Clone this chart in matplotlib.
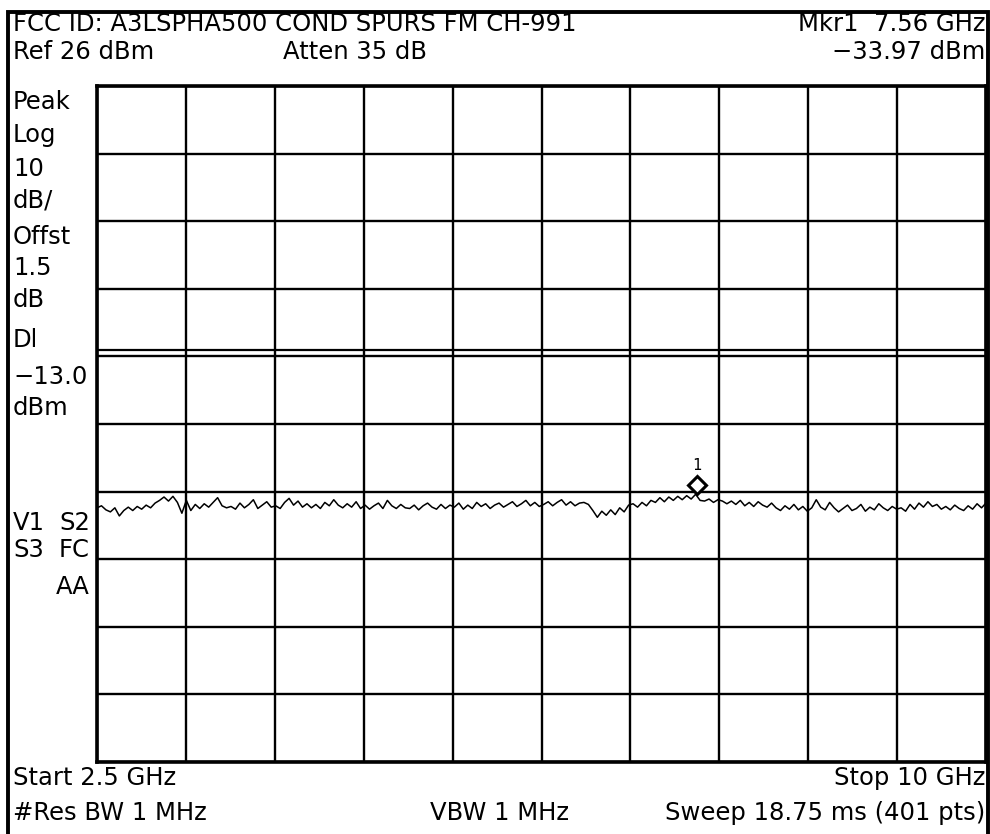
import numpy as np
import matplotlib
matplotlib.use("Agg")
import matplotlib.pyplot as plt
from matplotlib.patches import Rectangle
from matplotlib.transforms import offset_copy

# sweep settings
f_start = 2.5
f_stop = 10.0
ref_level = 26
db_per_div = 10
display_line = -13.0
marker_freq = 7.56

# trace (dBm) left to right
trace = [
    -36.4, -36.1, -36.7, -37.0, -36.4, -37.6, -36.8, -36.3, -36.8, -36.2,
    -36.6, -36.0, -36.4, -35.7, -35.3, -34.8, -35.4, -34.7, -35.6, -37.2,
    -35.3, -36.8, -35.9, -36.5, -35.8, -36.3, -35.6, -34.9, -36.1, -36.4,
    -36.2, -36.6, -35.7, -36.4, -35.9, -35.2, -36.5, -36.0, -35.5, -36.3,
    -36.1, -36.5, -35.6, -35.0, -36.0, -35.4, -36.3, -35.8, -36.4, -35.9,
    -36.5, -35.6, -36.1, -35.2, -36.0, -36.4, -35.8, -36.3, -35.5, -36.5,
    -36.0, -36.6, -36.1, -35.7, -36.5, -35.3, -36.1, -36.5, -35.9, -36.4,
    -36.5, -36.0, -36.7, -36.1, -35.7, -36.3, -36.6, -35.9, -36.5, -36.0,
    -36.3, -35.7, -36.6, -36.0, -36.5, -35.6, -36.2, -35.8, -36.5, -36.0,
    -35.7, -36.3, -35.9, -35.5, -36.2, -35.8, -35.3, -36.1, -35.6, -36.2,
    -35.9, -35.5, -36.1, -35.6, -35.2, -36.0, -35.5, -36.1, -35.7, -35.6,
    -35.9, -36.8, -37.8, -36.9, -37.5, -36.7, -37.4, -36.4, -37.0, -36.0,
    -35.8, -36.3, -35.6, -36.1, -35.3, -35.6, -34.9, -35.5, -34.8, -35.3,
    -34.7, -35.2, -34.6, -35.1, -34.4, -35.3, -35.4, -35.1, -35.6, -35.2,
    -35.4, -35.8, -35.4, -35.9, -35.3, -36.1, -35.6, -36.2, -35.5, -36.0,
    -36.3, -35.7, -36.4, -36.8, -36.1, -36.6, -35.9, -36.7, -36.2, -36.9,
    -36.4, -35.2, -36.3, -36.7, -35.6, -36.4, -37.0, -36.5, -36.0, -36.8,
    -36.5, -35.9, -36.9, -36.3, -36.7, -35.8, -36.4, -36.8, -36.2, -36.6,
    -36.4, -36.9, -35.9, -36.6, -35.7, -36.3, -35.5, -36.2, -35.9, -36.6,
    -36.2, -36.7, -36.0, -36.5, -36.8, -36.1, -36.6, -35.8, -36.4, -35.7,
]
freqs = np.linspace(f_start, f_stop, len(trace))

left_labels = ["Peak", "Log", "10", "dB/", "Offst", "1.5", "dB", "Dl", "\u221213.0", "dBm"]
left_label_y = [102, 135, 169, 200, 237, 268, 300, 340, 377, 408]

W, H = 990, 834
fig = plt.figure(figsize=(W / 100, H / 100), dpi=100)
ax = fig.add_axes([97 / W, 1 - 762 / H, 889 / W, 676 / H])

bottom = ref_level - 10 * db_per_div
ax.set_xlim(f_start, f_stop)
ax.set_ylim(bottom, ref_level)
ax.set_xticks(np.linspace(f_start, f_stop, 11))
ax.set_yticks(np.arange(bottom, ref_level + 1, db_per_div))
ax.tick_params(length=0, labelbottom=False, labelleft=False)
ax.grid(True, color="black", linewidth=1.7)
for s in ax.spines.values():
    s.set_linewidth(2.6)

ax.axhline(display_line, color="black", linewidth=1.6)
ax.plot(freqs, trace, color="black", linewidth=1.1)

# marker 1
mk_val = np.interp(marker_freq, freqs, trace)
tr = offset_copy(ax.transData, fig=fig, x=0, y=8, units="points")
ax.plot([marker_freq], [mk_val], marker="D", markersize=9, markerfacecolor="white",
        markeredgecolor="black", markeredgewidth=2.2, transform=tr)
ax.text(marker_freq, mk_val, "1", transform=offset_copy(ax.transData, fig=fig, x=0, y=22, units="points"),
        ha="center", va="center", fontsize=11, family="DejaVu Sans Mono")

# outer frame
fig.patches.append(Rectangle((8 / W, -0.01), 980 / W, 1 - 12 / H + 0.01, transform=fig.transFigure,
                             fill=False, edgecolor="black", linewidth=2.8))

fs = 17.5
fam = ["DejaVu Sans"]


def put(x, y, s, ha="left"):
    fig.text(x / W, 1 - y / H, s, ha=ha, va="center", fontsize=fs, family=fam)


put(13, 24, "FCC ID: A3LSPHA500 COND SPURS FM CH-991")
put(985, 24, "Mkr1  7.56 GHz", ha="right")
put(13, 52, "Ref 26 dBm")
put(283, 52, "Atten 35 dB")
put(985, 52, "\u221233.97 dBm", ha="right")
for lab, yy in zip(left_labels, left_label_y):
    put(13, yy, lab)
put(13, 523, "V1")
put(90, 523, "S2", ha="right")
put(13, 550, "S3")
put(90, 550, "FC", ha="right")
put(90, 587, "AA", ha="right")
put(13, 778, "Start 2.5 GHz")
put(985, 778, "Stop 10 GHz", ha="right")
put(13, 813, "#Res BW 1 MHz")
put(430, 813, "VBW 1 MHz")
put(985, 813, "Sweep 18.75 ms (401 pts)", ha="right")

fig.savefig("out.png", dpi=100)
